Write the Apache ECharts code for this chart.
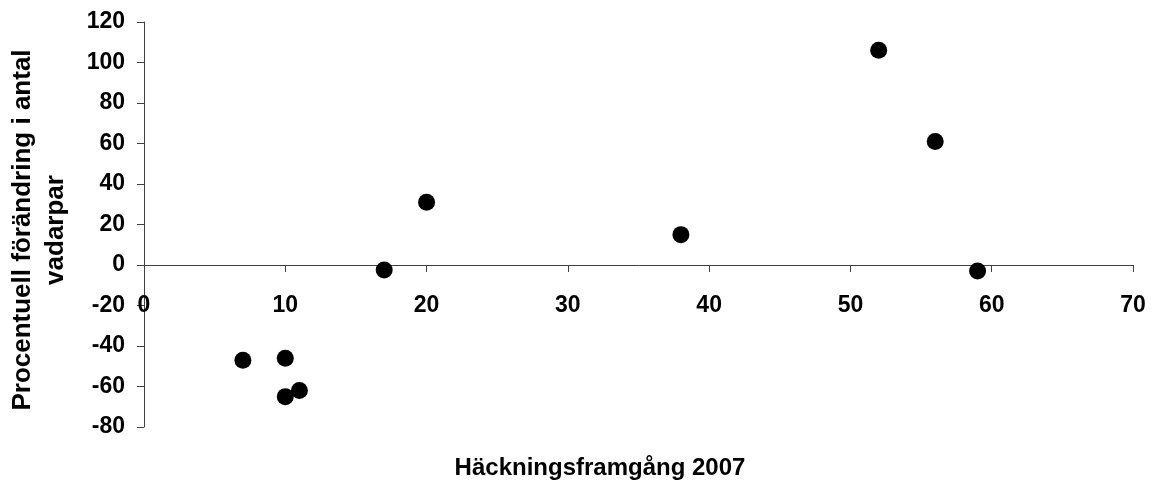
<!DOCTYPE html>
<html>
<head>
<meta charset="utf-8">
<script src="https://cdn.jsdelivr.net/npm/echarts@6/dist/echarts.min.js"></script>
<style>
html,body{margin:0;padding:0;background:#fff;}
#chart{width:1155px;height:484px;}
</style>
</head>
<body>
<div id="chart"></div>
<script>
var xValues = [7, 10, 10, 11, 17, 20, 38, 52, 56, 59];
var yValues = [-47, -46, -65, -62, -2.5, 31, 15, 106, 61, -3];
var xTitle = 'Häckningsframgång 2007';
var yTitle = 'Procentuell förändring i antal\nvadarpar';

var points = xValues.map(function (x, i) { return [x, yValues[i]]; });
var FONT = '"Liberation Sans", Arial, sans-serif';
var axisColor = '#404040';

var gridTop = 22, gridBottom = 57, chartH = 484;
var yMin = -80, yMax = 120;
var plotH = chartH - gridTop - gridBottom;
// distance from the grid bottom up to the y = 0 line
var zeroOffset = plotH * (0 - yMin) / (yMax - yMin);

var chart = echarts.init(document.getElementById('chart'));
chart.setOption({
  animation: false,
  backgroundColor: '#ffffff',
  grid: { left: 144, right: 22, top: gridTop, bottom: gridBottom },
  xAxis: {
    type: 'value', min: 0, max: 70, interval: 10,
    position: 'bottom',
    offset: -zeroOffset,
    axisLine: { onZero: false, lineStyle: { color: axisColor, width: 1 } },
    axisTick: { show: true, inside: false, length: 7, lineStyle: { color: axisColor } },
    axisLabel: { color: '#000', fontFamily: FONT, fontWeight: 'bold', fontSize: 23, margin: 29 },
    splitLine: { show: false }
  },
  yAxis: {
    type: 'value', min: yMin, max: yMax, interval: 20,
    axisLine: { show: true, onZero: false, lineStyle: { color: axisColor, width: 1 } },
    axisTick: { show: true, inside: false, length: 7, lineStyle: { color: axisColor } },
    axisLabel: { color: '#000', fontFamily: FONT, fontWeight: 'bold', fontSize: 23, margin: 19 },
    splitLine: { show: false }
  },
  graphic: [
    {
      type: 'text', x: 600, y: 468,
      style: { text: xTitle, align: 'center', verticalAlign: 'middle',
        font: 'bold 24px ' + FONT, fill: '#000' }
    },
    {
      type: 'text', x: 39, y: 230, rotation: Math.PI / 2,
      style: { text: yTitle, align: 'center', verticalAlign: 'middle',
        font: 'bold 26px ' + FONT, lineHeight: 33, fill: '#000' }
    }
  ],
  series: [{
    type: 'scatter',
    data: points,
    symbol: 'circle',
    symbolSize: 17,
    itemStyle: { color: '#000000', opacity: 1 }
  }]
});
</script>
</body>
</html>
